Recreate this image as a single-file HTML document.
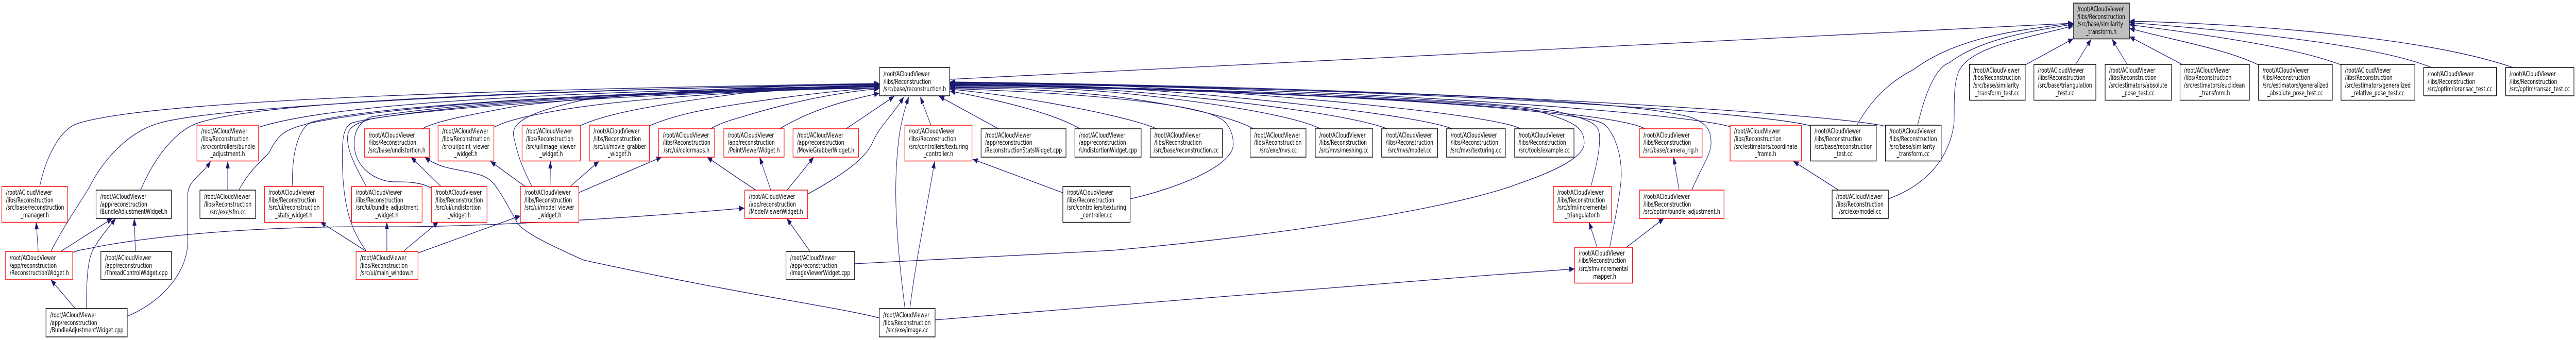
<!DOCTYPE html>
<html><head><meta charset="utf-8"><title>Include graph</title>
<style>
html,body{margin:0;padding:0;background:#fff;overflow:hidden}
svg{display:block;width:100vw;height:660px}
text{font-family:"DejaVu Sans",sans-serif;font-size:13px;fill:#000}
.m{text-anchor:middle}
.k rect{fill:#fff;stroke:#000;stroke-width:1.5}
.r rect{fill:#fff;stroke:#f00;stroke-width:1.5}
.e path{fill:none;stroke:#191970;stroke-width:1.3}
</style></head><body>
<svg xmlns="http://www.w3.org/2000/svg" viewBox="0 0 6945 660" preserveAspectRatio="none">
<defs><marker id="a" markerUnits="userSpaceOnUse" markerWidth="15" markerHeight="12" refX="14" refY="5.5" orient="auto"><path d="M0,0L14,5.5L0,11z" fill="#191970"/></marker></defs>

<g class="e">
<path marker-end="url(#a)" d="M107,362C125,300 165,250 208,240C420,190 1500,172 2371,162"/>
<path marker-end="url(#a)" d="M137,488C175,435 215,395 242,362C270,320 340,255 434,238C600,205 1500,173 2371,163"/>
<path marker-end="url(#a)" d="M379,369C420,300 475,255 529,240C700,195 1500,174 2371,164"/>
<path marker-end="url(#a)" d="M698,247C900,200 1500,178 2371,166"/>
<path marker-end="url(#a)" d="M644,369C680,320 720,307 730,290C755,255 780,250 830,240C1000,212 1500,180 2371,167"/>
<path marker-end="url(#a)" d="M789,362C785,310 800,250 840,237C1000,208 1500,182 2371,168"/>
<path marker-end="url(#a)" d="M988,488C945,445 925,400 923,316C922,270 925,250 945,240C1000,222 1500,186 2371,170"/>
<path marker-end="url(#a)" d="M988,362C955,320 935,290 937,265C940,245 960,240 1000,231C1300,195 1800,178 2371,171"/>
<path marker-end="url(#a)" d="M1163,365C1130,352 1090,353 1060,353C1020,352 955,330 955,278C955,250 975,235 1000,227C1300,193 1800,177 2371,170"/>
<path marker-end="url(#a)" d="M1139,250C1170,236 1250,225 1400,205C1700,180 2000,172 2371,165"/>
<path marker-end="url(#a)" d="M1332,247C1370,232 1440,223 1500,215C1700,190 2000,178 2371,167"/>
<path marker-end="url(#a)" d="M1434,362C1405,320 1395,300 1385,265C1375,235 1440,215 1574,194C1800,175 2100,167 2371,162"/>
<path marker-end="url(#a)" d="M1564,244C1640,218 1800,200 2000,181C2120,174 2250,170 2371,168"/>
<path marker-end="url(#a)" d="M1751,244C1830,220 1920,210 2000,201C2120,188 2250,176 2371,170"/>
<path marker-end="url(#a)" d="M1915,250C1945,238 1975,232 2000,227C2120,200 2250,180 2371,172"/>
<path marker-end="url(#a)" d="M2102,250C2190,212 2280,195 2371,181"/>
<path marker-end="url(#a)" d="M2281,250L2411,187"/>
<path marker-end="url(#a)" d="M2177,377C2270,340 2330,310 2350,280C2375,240 2390,240 2437,188"/>
<path marker-end="url(#a)" d="M2440,599C2420,490 2412,400 2416,337C2420,270 2428,235 2450,188"/>
<path marker-end="url(#a)" d="M2453,599C2470,500 2495,420 2520,313"/>
<path marker-end="url(#a)" d="M2510,243L2481,188"/>
<path marker-end="url(#a)" d="M2692,250L2532,187"/>
<path marker-end="url(#a)" d="M2912,250C2840,220 2700,195 2561,177"/>
<path marker-end="url(#a)" d="M3118,250C3060,230 2800,190 2561,173"/>
<path marker-end="url(#a)" d="M2865,374L2622,309"/>
<path marker-end="url(#a)" d="M3048,386C3190,362 3325,320 3325,280C3325,250 3300,232 3287,229C3220,200 2900,180 2561,172"/>
<path marker-end="url(#a)" d="M3379,250C3340,232 3200,205 3000,187C2850,175 2700,170 2561,171"/>
<path marker-end="url(#a)" d="M3560,250C3500,228 3300,200 3000,179C2850,170 2700,168 2561,170"/>
<path marker-end="url(#a)" d="M3740,250C3650,225 3350,195 3000,175C2850,168 2700,166 2561,168"/>
<path marker-end="url(#a)" d="M3915,250C3830,225 3400,190 3000,170C2850,165 2700,164 2561,167"/>
<path marker-end="url(#a)" d="M4099,250C4050,228 3600,190 3000,166C2850,163 2700,163 2561,166"/>
<path marker-end="url(#a)" d="M2304,512C2600,500 2850,490 3000,486C3400,460 3900,410 4100,355C4220,325 4271,300 4271,278C4271,245 4240,235 4128,212C3900,190 3000,170 2561,165"/>
<path marker-end="url(#a)" d="M4289,362C4305,320 4315,285 4312,261C4310,240 4285,232 4191,215C3900,185 3000,168 2561,164"/>
<path marker-end="url(#a)" d="M4340,480C4355,420 4371,370 4371,337C4371,290 4345,250 4322,240C4280,222 3900,185 2561,163"/>
<path marker-end="url(#a)" d="M4434,250C4380,225 3900,183 2561,162"/>
<path marker-end="url(#a)" d="M4561,369C4590,320 4613,300 4613,278C4613,250 4600,240 4560,228C4400,195 3800,175 2561,161"/>
<path marker-end="url(#a)" d="M4664,246C4580,225 3800,172 2561,160"/>
<path marker-end="url(#a)" d="M4880,244C4750,218 3800,170 2561,160"/>
<path marker-end="url(#a)" d="M5083,245C4950,222 3900,170 2561,159"/>
<path marker-end="url(#a)" d="M5006,243C5060,175 5120,150 5159,135C5280,70 5450,58 5590,45"/>
<path marker-end="url(#a)" d="M5170,243C5190,180 5220,130 5255,122C5340,75 5480,60 5590,47"/>
<path marker-end="url(#a)" d="M5091,386C5190,360 5255,310 5268,240C5270,200 5265,170 5280,140C5310,90 5460,75 5590,50"/>
<path marker-end="url(#a)" d="M2561,154C3500,125 4500,90 5590,45"/>
<path marker-end="url(#a)" d="M5460,126L5590,75"/>
<path marker-end="url(#a)" d="M5596,125L5638,76"/>
<path marker-end="url(#a)" d="M5735,125L5694,76"/>
<path marker-end="url(#a)" d="M5883,125L5741,71"/>
<path marker-end="url(#a)" d="M6089,126C6000,95 5870,80 5741,55"/>
<path marker-end="url(#a)" d="M6312,126C6200,95 6000,72 5741,48"/>
<path marker-end="url(#a)" d="M6555,131C6400,85 6000,58 5741,44"/>
<path marker-end="url(#a)" d="M6775,131C6550,75 6100,47 5741,41"/>
<path marker-end="url(#a)" d="M103,488L97.6,431"/>
<path marker-end="url(#a)" d="M164,488L303,424"/>
<path marker-end="url(#a)" d="M365,488L362,424"/>
<path marker-end="url(#a)" d="M233,599C233,547 235,500 255,480C270,460 295,440 312,424"/>
<path marker-end="url(#a)" d="M203,599L137,543"/>
<path marker-end="url(#a)" d="M614,369L614,313"/>
<path marker-end="url(#a)" d="M343,614C440,585 506,526 506,470C506,440 506,410 506,379C506,350 545,340 568,313"/>
<path marker-end="url(#a)" d="M988,488L864,431"/>
<path marker-end="url(#a)" d="M196,490C215,484 235,484 255,480C400,460 650,440 1000,440C1200,442 1574,431 2007,404"/>
<path marker-end="url(#a)" d="M1043,488L1043,431"/>
<path marker-end="url(#a)" d="M1087,488L1182,431"/>
<path marker-end="url(#a)" d="M1127,491L1403,419"/>
<path marker-end="url(#a)" d="M1189,362L1108,305"/>
<path marker-end="url(#a)" d="M2370,617C2250,595 2000,572 1574,505C1480,475 1410,450 1395,433C1370,400 1350,375 1344,370C1325,345 1300,340 1281,337C1240,328 1190,330 1145,305"/>
<path marker-end="url(#a)" d="M1416,362L1322,313"/>
<path marker-end="url(#a)" d="M1483,362L1484,313"/>
<path marker-end="url(#a)" d="M1537,362L1615,313"/>
<path marker-end="url(#a)" d="M1560,374L1784,305"/>
<path marker-end="url(#a)" d="M2078,369L2048,305"/>
<path marker-end="url(#a)" d="M2122,369L2194,305"/>
<path marker-end="url(#a)" d="M2184,488L2121,424"/>
<path marker-end="url(#a)" d="M2038,369L2000,351L1906,305"/>
<path marker-end="url(#a)" d="M2521,621L3000,593L4000,535L4245,522"/>
<path marker-end="url(#a)" d="M4306,480L4284,431"/>
<path marker-end="url(#a)" d="M4385,480L4486,424"/>
<path marker-end="url(#a)" d="M4527,369L4512,305"/>
<path marker-end="url(#a)" d="M4957,369L4835,313"/>
</g>

<g class="r"><rect x="5" y="362" width="177" height="69.5"/><text x="16" y="378">/root/ACloudViewer</text><text x="16" y="393">/libs/Reconstruction</text><text x="16" y="407">/src/base/reconstruction</text><text class="m" x="94" y="422">_manager.h</text></g>
<g class="k"><rect x="259" y="369" width="203" height="55"/><text x="270" y="386">/root/ACloudViewer</text><text x="270" y="401">/app/reconstruction</text><text class="m" x="360" y="415">/BundleAdjustmentWidget.h</text></g>
<g class="r"><rect x="531" y="243" width="166" height="69.5"/><text x="542" y="259">/root/ACloudViewer</text><text x="542" y="274">/libs/Reconstruction</text><text x="542" y="289">/src/controllers/bundle</text><text class="m" x="614" y="303">_adjustment.h</text></g>
<g class="k"><rect x="539" y="369" width="150" height="55"/><text x="550" y="386">/root/ACloudViewer</text><text x="550" y="401">/libs/Reconstruction</text><text class="m" x="614" y="416">/src/exe/sfm.cc</text></g>
<g class="r"><rect x="713" y="362" width="159" height="69.5"/><text x="724" y="378">/root/ACloudViewer</text><text x="724" y="393">/libs/Reconstruction</text><text x="724" y="407">/src/ui/reconstruction</text><text class="m" x="792" y="422">_stats_widget.h</text></g>
<g class="r"><rect x="15" y="488" width="181" height="55"/><text x="26" y="505">/root/ACloudViewer</text><text x="26" y="520">/app/reconstruction</text><text class="m" x="106" y="534">/ReconstructionWidget.h</text></g>
<g class="k"><rect x="272" y="488" width="190" height="55"/><text x="283" y="505">/root/ACloudViewer</text><text x="283" y="520">/app/reconstruction</text><text class="m" x="367" y="534">/ThreadControlWidget.cpp</text></g>
<g class="k"><rect x="124" y="599" width="219" height="55"/><text x="135" y="616">/root/ACloudViewer</text><text x="135" y="631">/app/reconstruction</text><text class="m" x="234" y="645">/BundleAdjustmentWidget.cpp</text></g>
<g class="r"><rect x="960" y="488" width="167" height="55"/><text x="971" y="505">/root/ACloudViewer</text><text x="971" y="520">/libs/Reconstruction</text><text class="m" x="1043" y="534">/src/ui/main_window.h</text></g>
<g class="r"><rect x="983" y="250" width="174.500" height="55"/><text x="994" y="267">/root/ACloudViewer</text><text x="994" y="281">/libs/Reconstruction</text><text class="m" x="1070" y="296">/src/base/undistortion.h</text></g>
<g class="r"><rect x="948" y="362" width="190" height="69.5"/><text x="959" y="378">/root/ACloudViewer</text><text x="959" y="393">/libs/Reconstruction</text><text x="959" y="407">/src/ui/bundle_adjustment</text><text class="m" x="1043" y="422">_widget.h</text></g>
<g class="r"><rect x="1163" y="362" width="150" height="69.5"/><text x="1174" y="378">/root/ACloudViewer</text><text x="1174" y="393">/libs/Reconstruction</text><text x="1174" y="407">/src/ui/undistortion</text><text class="m" x="1238" y="422">_widget.h</text></g>
<g class="r"><rect x="1181" y="243" width="150.500" height="69.5"/><text x="1192" y="259">/root/ACloudViewer</text><text x="1192" y="274">/libs/Reconstruction</text><text x="1192" y="289">/src/ui/point_viewer</text><text class="m" x="1256" y="303">_widget.h</text></g>
<g class="r"><rect x="1407.500" y="243" width="157" height="69.5"/><text x="1418" y="259">/root/ACloudViewer</text><text x="1418" y="274">/libs/Reconstruction</text><text x="1418" y="289">/src/ui/image_viewer</text><text class="m" x="1486" y="303">_widget.h</text></g>
<g class="r"><rect x="1589" y="243" width="162" height="69.5"/><text x="1600" y="259">/root/ACloudViewer</text><text x="1600" y="274">/libs/Reconstruction</text><text x="1600" y="289">/src/ui/movie_grabber</text><text class="m" x="1670" y="303">_widget.h</text></g>
<g class="r"><rect x="1775.500" y="250" width="151" height="55"/><text x="1787" y="267">/root/ACloudViewer</text><text x="1787" y="281">/libs/Reconstruction</text><text class="m" x="1851" y="296">/src/ui/colormaps.h</text></g>
<g class="r"><rect x="1951.500" y="250" width="162.500" height="55"/><text x="1962" y="267">/root/ACloudViewer</text><text x="1962" y="281">/app/reconstruction</text><text class="m" x="2033" y="296">/PointViewerWidget.h</text></g>
<g class="r"><rect x="1403" y="362" width="157.500" height="69.5"/><text x="1414" y="378">/root/ACloudViewer</text><text x="1414" y="393">/libs/Reconstruction</text><text x="1414" y="407">/src/ui/model_viewer</text><text class="m" x="1482" y="422">_widget.h</text></g>
<g class="r"><rect x="2138" y="250" width="176.500" height="55"/><text x="2149" y="267">/root/ACloudViewer</text><text x="2149" y="281">/app/reconstruction</text><text class="m" x="2226" y="296">/MovieGrabberWidget.h</text></g>
<g class="k"><rect x="2371" y="131" width="189.500" height="55"/><text x="2382" y="148">/root/ACloudViewer</text><text x="2382" y="163">/libs/Reconstruction</text><text class="m" x="2466" y="177">/src/base/reconstruction.h</text></g>
<g class="r"><rect x="2439.500" y="243" width="181" height="69.5"/><text x="2450" y="259">/root/ACloudViewer</text><text x="2450" y="274">/libs/Reconstruction</text><text x="2450" y="289">/src/controllers/texturing</text><text class="m" x="2530" y="303">_controller.h</text></g>
<g class="k"><rect x="2645" y="250" width="229" height="55"/><text x="2656" y="267">/root/ACloudViewer</text><text x="2656" y="281">/app/reconstruction</text><text class="m" x="2759" y="296">/ReconstructionStatsWidget.cpp</text></g>
<g class="k"><rect x="2898" y="250" width="178.500" height="55"/><text x="2909" y="267">/root/ACloudViewer</text><text x="2909" y="281">/app/reconstruction</text><text class="m" x="2987" y="296">/UndistortionWidget.cpp</text></g>
<g class="r"><rect x="2008" y="369" width="169.500" height="55"/><text x="2019" y="386">/root/ACloudViewer</text><text x="2019" y="401">/app/reconstruction</text><text class="m" x="2092" y="415">/ModelViewerWidget.h</text></g>
<g class="k"><rect x="2119" y="488" width="185" height="55"/><text x="2130" y="505">/root/ACloudViewer</text><text x="2130" y="520">/app/reconstruction</text><text class="m" x="2211" y="534">/ImageViewerWidget.cpp</text></g>
<g class="k"><rect x="2370.500" y="599" width="150.500" height="55"/><text x="2381" y="616">/root/ACloudViewer</text><text x="2381" y="631">/libs/Reconstruction</text><text class="m" x="2446" y="645">/src/exe/image.cc</text></g>
<g class="k"><rect x="2865.500" y="362" width="181.500" height="69.5"/><text x="2876" y="378">/root/ACloudViewer</text><text x="2876" y="393">/libs/Reconstruction</text><text x="2876" y="407">/src/controllers/texturing</text><text class="m" x="2956" y="422">_controller.cc</text></g>
<g class="k"><rect x="3101" y="250" width="194.500" height="55"/><text x="3112" y="267">/root/ACloudViewer</text><text x="3112" y="281">/libs/Reconstruction</text><text class="m" x="3198" y="296">/src/base/reconstruction.cc</text></g>
<g class="k"><rect x="3370.500" y="250" width="150.500" height="55"/><text x="3381" y="267">/root/ACloudViewer</text><text x="3381" y="281">/libs/Reconstruction</text><text class="m" x="3446" y="296">/src/exe/mvs.cc</text></g>
<g class="k"><rect x="3546" y="250" width="155" height="55"/><text x="3557" y="267">/root/ACloudViewer</text><text x="3557" y="281">/libs/Reconstruction</text><text class="m" x="3623.500" y="296">/src/mvs/meshing.cc</text></g>
<g class="k"><rect x="3725" y="250" width="151" height="55"/><text x="3736" y="267">/root/ACloudViewer</text><text x="3736" y="281">/libs/Reconstruction</text><text class="m" x="3800.500" y="296">/src/mvs/model.cc</text></g>
<g class="k"><rect x="3900" y="250" width="158.500" height="55"/><text x="3911" y="267">/root/ACloudViewer</text><text x="3911" y="281">/libs/Reconstruction</text><text class="m" x="3979" y="296">/src/mvs/texturing.cc</text></g>
<g class="k"><rect x="4083.500" y="250" width="160" height="55"/><text x="4094" y="267">/root/ACloudViewer</text><text x="4094" y="281">/libs/Reconstruction</text><text class="m" x="4163.500" y="296">/src/tools/example.cc</text></g>
<g class="r"><rect x="4188" y="362" width="156.500" height="69.5"/><text x="4199" y="378">/root/ACloudViewer</text><text x="4199" y="393">/libs/Reconstruction</text><text x="4199" y="407">/src/sfm/incremental</text><text class="m" x="4266" y="422">_triangulator.h</text></g>
<g class="r"><rect x="4245.500" y="480" width="155.500" height="69.5"/><text x="4256" y="496">/root/ACloudViewer</text><text x="4256" y="510">/libs/Reconstruction</text><text x="4256" y="526">/src/sfm/incremental</text><text class="m" x="4323" y="541">_mapper.h</text></g>
<g class="r"><rect x="4420" y="250" width="169" height="55"/><text x="4431" y="267">/root/ACloudViewer</text><text x="4431" y="281">/libs/Reconstruction</text><text class="m" x="4504.500" y="296">/src/base/camera_rig.h</text></g>
<g class="r"><rect x="4420" y="369" width="228" height="55"/><text x="4431" y="386">/root/ACloudViewer</text><text x="4431" y="401">/libs/Reconstruction</text><text class="m" x="4534" y="415">/src/optim/bundle_adjustment.h</text></g>
<g class="r"><rect x="4664.500" y="243" width="192" height="69.5"/><text x="4675" y="259">/root/ACloudViewer</text><text x="4675" y="274">/libs/Reconstruction</text><text x="4675" y="289">/src/estimators/coordinate</text><text class="m" x="4760" y="303">_frame.h</text></g>
<g class="k"><rect x="4881.500" y="243" width="177" height="69.5"/><text x="4892" y="259">/root/ACloudViewer</text><text x="4892" y="274">/libs/Reconstruction</text><text x="4892" y="289">/src/base/reconstruction</text><text class="m" x="4970" y="303">_test.cc</text></g>
<g class="k"><rect x="4939.500" y="369" width="151.500" height="55"/><text x="4950" y="386">/root/ACloudViewer</text><text x="4950" y="401">/libs/Reconstruction</text><text class="m" x="5015" y="415">/src/exe/model.cc</text></g>
<g class="k"><rect x="5083" y="243" width="150.500" height="69.5"/><text x="5094" y="259">/root/ACloudViewer</text><text x="5094" y="274">/libs/Reconstruction</text><text x="5094" y="289">/src/base/similarity</text><text class="m" x="5158" y="303">_transform.cc</text></g>
<g class="k"><rect x="5590.500" y="6" width="150.500" height="69.5" style="fill:#bfbfbf"/><text x="5601" y="22">/root/ACloudViewer</text><text x="5601" y="37">/libs/Reconstruction</text><text x="5601" y="51">/src/base/similarity</text><text class="m" x="5665" y="66">_transform.h</text></g>
<g class="k"><rect x="5309.500" y="125" width="150.500" height="69.5"/><text x="5320" y="141">/root/ACloudViewer</text><text x="5320" y="155">/libs/Reconstruction</text><text x="5320" y="170">/src/base/similarity</text><text class="m" x="5385" y="185">_transform_test.cc</text></g>
<g class="k"><rect x="5483.500" y="125" width="167" height="69.5"/><text x="5494" y="141">/root/ACloudViewer</text><text x="5494" y="155">/libs/Reconstruction</text><text x="5494" y="170">/src/base/triangulation</text><text class="m" x="5567" y="185">_test.cc</text></g>
<g class="k"><rect x="5675.500" y="125" width="179" height="69.5"/><text x="5686" y="141">/root/ACloudViewer</text><text x="5686" y="155">/libs/Reconstruction</text><text x="5686" y="170">/src/estimators/absolute</text><text class="m" x="5765" y="185">_pose_test.cc</text></g>
<g class="k"><rect x="5877.500" y="125" width="187" height="69.5"/><text x="5888" y="141">/root/ACloudViewer</text><text x="5888" y="155">/libs/Reconstruction</text><text x="5888" y="170">/src/estimators/euclidean</text><text class="m" x="5971" y="185">_transform.h</text></g>
<g class="k"><rect x="6089" y="125" width="199" height="69.5"/><text x="6100" y="141">/root/ACloudViewer</text><text x="6100" y="155">/libs/Reconstruction</text><text x="6100" y="170">/src/estimators/generalized</text><text class="m" x="6188" y="185">_absolute_pose_test.cc</text></g>
<g class="k"><rect x="6311.500" y="125" width="199" height="69.5"/><text x="6322" y="141">/root/ACloudViewer</text><text x="6322" y="155">/libs/Reconstruction</text><text x="6322" y="170">/src/estimators/generalized</text><text class="m" x="6411" y="185">_relative_pose_test.cc</text></g>
<g class="k"><rect x="6534.500" y="131" width="196" height="55"/><text x="6545" y="148">/root/ACloudViewer</text><text x="6545" y="163">/libs/Reconstruction</text><text class="m" x="6632" y="177">/src/optim/loransac_test.cc</text></g>
<g class="k"><rect x="6755.500" y="131" width="184" height="55"/><text x="6766" y="148">/root/ACloudViewer</text><text x="6766" y="163">/libs/Reconstruction</text><text class="m" x="6847" y="177">/src/optim/ransac_test.cc</text></g>
</svg>
</body></html>
